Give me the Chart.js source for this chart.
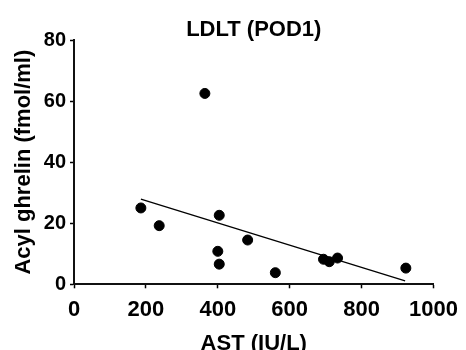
<!DOCTYPE html>
<html>
<head>
<meta charset="utf-8">
<script src="https://cdn.jsdelivr.net/npm/chart.js@4/dist/chart.umd.min.js"></script>
<style>
  html, body { margin: 0; padding: 0; background: #fff; overflow: hidden; }
  #wrap { position: relative; width: 466px; height: 350px; }
</style>
</head>
<body>
<div id="wrap"><canvas id="c" width="466" height="350"></canvas></div>
<script>
// Data
const chartTitle = 'LDLT (POD1)';
const xAxisTitle = 'AST (IU/L)';
const yAxisTitle = 'Acyl ghrelin (fmol/ml)';
const astValues = [186, 237, 364, 400, 404, 404, 483, 560, 694, 710, 733, 923];
const ghrelinValues = [25.0, 19.2, 62.5, 10.8, 6.6, 22.6, 14.5, 3.8, 8.2, 7.4, 8.6, 5.3];
const trendX = [186, 921];
const trendY = [27.9, 1.1];
const xTicks = [0, 200, 400, 600, 800, 1000];
const yTicks = [0, 20, 40, 60, 80];

const FONT = "'Liberation Sans', Arial, Helvetica, sans-serif";

const points = astValues.map((x, i) => ({ x: x, y: ghrelinValues[i] }));
const trend = trendX.map((x, i) => ({ x: x, y: trendY[i] }));

new Chart(document.getElementById('c'), {
  type: 'scatter',
  data: {
    datasets: [
      {
        label: 'data',
        data: points,
        backgroundColor: '#000',
        borderColor: '#000',
        pointRadius: 5,
        pointHoverRadius: 5,
        showLine: false
      },
      {
        label: 'fit',
        type: 'line',
        data: trend,
        borderColor: '#000',
        borderWidth: 1.3,
        pointRadius: 0,
        fill: false,
        tension: 0
      }
    ]
  },
  options: {
    responsive: false,
    animation: false,
    events: [],
    layout: { padding: { left: 0, right: 25, top: 0, bottom: 0 } },
    plugins: {
      legend: { display: false },
      tooltip: { enabled: false },
      title: {
        display: true,
        text: chartTitle,
        fullSize: false,
        color: '#000',
        font: { family: FONT, size: 22, weight: 'bold', lineHeight: 1 },
        padding: { top: 18.5, bottom: -0.5 }
      }
    },
    scales: {
      x: {
        type: 'linear',
        min: 0,
        max: 1000,
        afterFit: (s) => { s.height = 350 - 284.3; },
        afterBuildTicks: (s) => { s.ticks = xTicks.map(v => ({ value: v })); },
        ticks: {
          color: '#000',
          padding: 8,
          maxRotation: 0,
          callback: (v) => String(v),
          font: { family: FONT, size: 22, weight: 'bold' }
        },
        grid: {
          display: true,
          drawOnChartArea: false,
          drawTicks: true,
          tickLength: 4,
          tickWidth: 1.5,
          tickColor: '#000'
        },
        border: { display: true, color: '#111', width: 2 },
        title: {
          display: true,
          text: xAxisTitle,
          color: '#000',
          font: { family: FONT, size: 22, weight: 'bold', lineHeight: 1 },
          padding: { top: 0, bottom: -5 }
        }
      },
      y: {
        type: 'linear',
        min: 0,
        max: 80,
        afterFit: (s) => { s.width = 74; },
        afterBuildTicks: (s) => { s.ticks = yTicks.map(v => ({ value: v })); },
        ticks: {
          color: '#000',
          padding: 4,
          callback: (v) => String(v),
          font: { family: FONT, size: 20, weight: 'bold' }
        },
        grid: {
          display: true,
          drawOnChartArea: false,
          drawTicks: true,
          tickLength: 4,
          tickWidth: 1.5,
          tickColor: '#000'
        },
        border: { display: true, color: '#111', width: 2 },
        title: {
          display: true,
          text: yAxisTitle,
          color: '#000',
          font: { family: FONT, size: 22, weight: 'bold', lineHeight: 1.2 },
          padding: { top: 11, bottom: 0 }
        }
      }
    }
  }
});
</script>
</body>
</html>
